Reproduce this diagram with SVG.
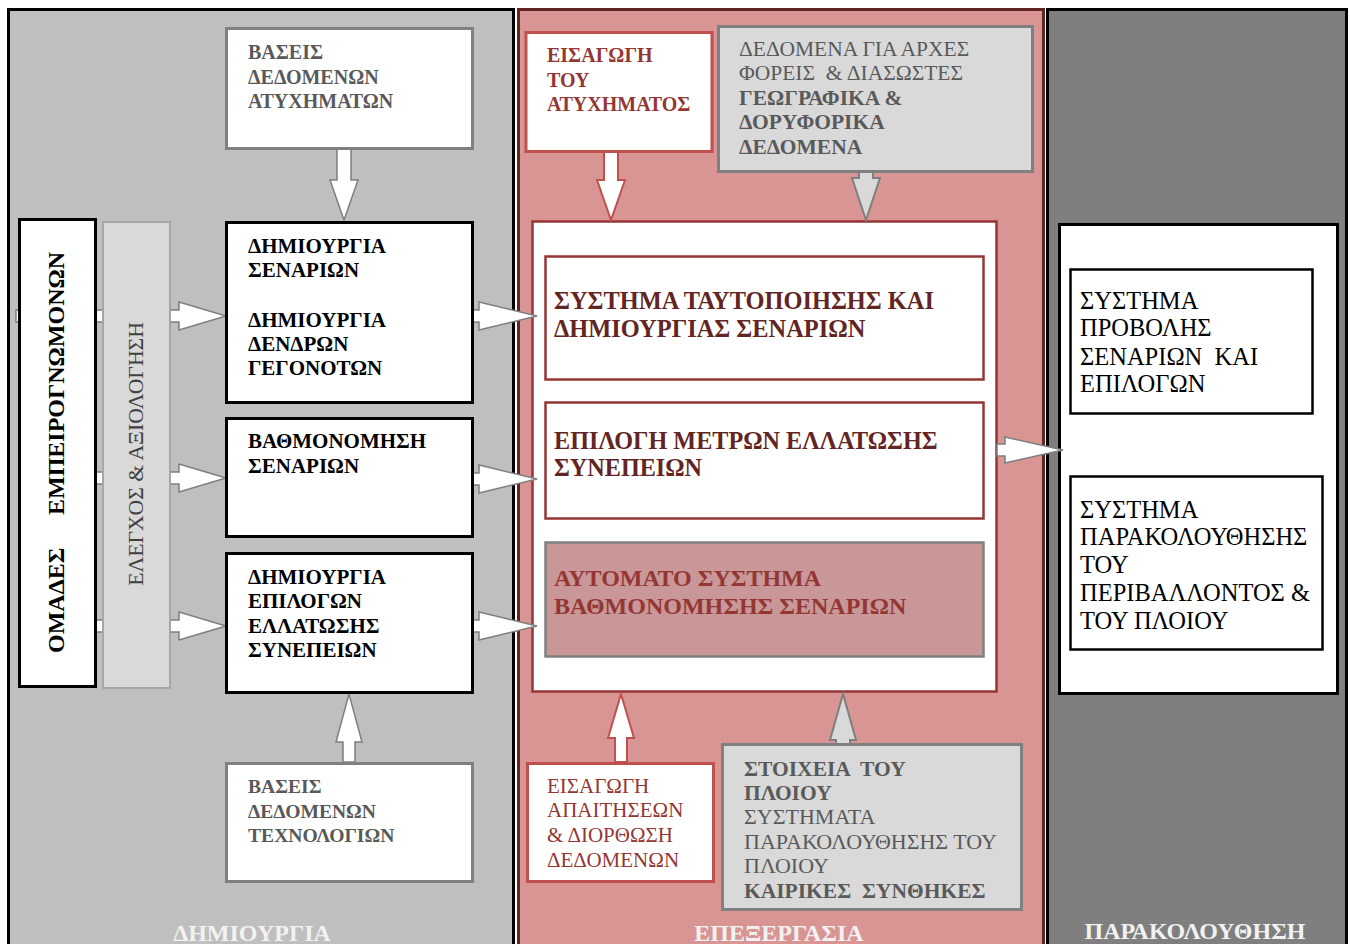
<svg xmlns="http://www.w3.org/2000/svg" width="1350" height="944" viewBox="0 0 1350 944">
  <style>
    text { font-family: "Liberation Serif", "DejaVu Serif", serif; }
    .b { font-weight: bold; }
    .s20 { font-size: 20px; }
    .s21 { font-size: 21px; }
    .s215 { font-size: 21.5px; }
    .s24 { font-size: 24px; }
    .s245 { font-size: 24.5px; }
    .black { fill: #000; }
    .grey { fill: #595959; }
    .red { fill: #943634; }
    .dred { fill: #632523; }
    .wt { fill: #f2f2f2; }
    .box-k { fill: #fff; stroke: #000; stroke-width: 3; }
    .box-g { fill: #fff; stroke: #808080; stroke-width: 3; }
    .box-lg { fill: #d9d9d9; stroke: #808080; stroke-width: 3; }
    .box-r { fill: #fff; stroke: #c0504d; stroke-width: 3; }
    .box-dr { fill: #fff; stroke: #943634; stroke-width: 2.5; }
    .arr-w { fill: #fff; stroke: #7f7f7f; stroke-width: 1.5; }
    .arr-r { fill: #fff; stroke: #c0504d; stroke-width: 2; }
    .arr-g { fill: #d9d9d9; stroke: #7f7f7f; stroke-width: 2; }
  </style>

  <rect x="0" y="0" width="1350" height="944" fill="#fff"/>

  <!-- three swimlanes -->
  <g id="lanes">
    <rect x="8.5" y="9.5" width="505" height="950" fill="#bfbfbf" stroke="#000" stroke-width="3"/>
    <rect x="518.5" y="9.5" width="525" height="950" fill="#d99594" stroke="#632523" stroke-width="3"/>
    <rect x="1047.5" y="9.5" width="299" height="950" fill="#7f7f7f" stroke="#000" stroke-width="3"/>
    <text class="b s24 wt" x="252" y="941" text-anchor="middle">ΔΗΜΙΟΥΡΓΙΑ</text>
    <text class="b s24 wt" x="779" y="941" text-anchor="middle">ΕΠΕΞΕΡΓΑΣΙΑ</text>
    <text class="b s24 wt" x="1195" y="939" text-anchor="middle">ΠΑΡΑΚΟΛΟΥΘΗΣΗ</text>
  </g>

  <!-- container frames -->
  <g id="processing">
    <rect x="532.5" y="221.5" width="464" height="470" fill="#fff" stroke="#943634" stroke-width="2.5"/>
  </g>
  <g id="monitoring">
    <rect x="1059.5" y="224.5" width="278" height="469" class="box-k"/>
  </g>

  <!-- connectors -->
  <g id="connectors">
    <!-- downward -->
    <polygon class="arr-w" points="337,149 351,149 351,180 358,180 344,220 330,180 337,180"/>
    <polygon class="arr-r" points="604,152 618,152 618,180 625,180 611,220 597,180 604,180"/>
    <polygon class="arr-g" points="859,172 873,172 873,178 880,178 866,220 852,178 859,178"/>
    <!-- upward -->
    <polygon class="arr-w" points="343,762 355,762 355,742 362,742 349,694 336,742 343,742"/>
    <polygon class="arr-r" points="615,762 627,762 627,738 634,738 621,694 608,738 615,738"/>
    <polygon class="arr-g" points="836,745 850,745 850,740 856,740 843,694 830,740 836,740"/>
    <!-- expert groups to creation steps -->
    <polygon class="arr-w" points="16,310 179,310 179,302 226,316 179,330 179,322 16,322"/>
    <polygon class="arr-w" points="19,472 179,472 179,464 226,478 179,492 179,484 19,484"/>
    <polygon class="arr-w" points="19,620 179,620 179,612 226,626 179,640 179,632 19,632"/>
    <!-- creation steps to processing -->
    <polygon class="arr-w" points="473,310 479,310 479,302 537,316 479,330 479,322 473,322"/>
    <polygon class="arr-w" points="473,473 479,473 479,465 537,479 479,493 479,485 473,485"/>
    <polygon class="arr-w" points="473,620 479,620 479,612 537,626 479,640 479,632 473,632"/>
    <!-- processing to monitoring -->
    <polygon class="arr-w" points="997,444 1005,444 1005,437 1063,450 1005,463 1005,456 997,456"/>
  </g>

  <!-- creation lane -->
  <g id="experts">
    <rect x="19.5" y="219.5" width="76" height="467" class="box-k"/>
    <text class="b s24 black" transform="translate(64,653) rotate(-90)">ΟΜΑΔΕΣ</text>
    <text class="b s24 black" transform="translate(64,515) rotate(-90)">ΕΜΠΕΙΡΟΓΝΩΜΟΝΩΝ</text>
  </g>
  <g id="review">
    <rect x="103" y="222" width="67" height="466" fill="#d9d9d9" stroke="#a6a6a6" stroke-width="2"/>
    <text fill="#404040" style="font-size:21.7px" transform="translate(143,454) rotate(-90)" text-anchor="middle">ΕΛΕΓΧΟΣ &amp; ΑΞΙΟΛΟΓΗΣΗ</text>
  </g>
  <g id="accident-db">
    <rect x="226.5" y="28.5" width="246" height="120" class="box-g"/>
    <text class="b s20 grey" x="248" y="59">ΒΑΣΕΙΣ</text>
    <text class="b s20 grey" x="248" y="84">ΔΕΔΟΜΕΝΩΝ</text>
    <text class="b s20 grey" x="248" y="108">ΑΤΥΧΗΜΑΤΩΝ</text>
  </g>
  <g id="scenario-creation">
    <rect x="226.5" y="222.5" width="246" height="180" class="box-k"/>
    <text class="b s21 black" x="248" y="253">ΔΗΜΙΟΥΡΓΙΑ</text>
    <text class="b s21 black" x="248" y="277">ΣΕΝΑΡΙΩΝ</text>
    <text class="b s21 black" x="248" y="327">ΔΗΜΙΟΥΡΓΙΑ</text>
    <text class="b s21 black" x="248" y="351">ΔΕΝΔΡΩΝ</text>
    <text class="b s21 black" x="248" y="375">ΓΕΓΟΝΟΤΩΝ</text>
  </g>
  <g id="scenario-ranking">
    <rect x="226.5" y="418.5" width="246" height="118" class="box-k"/>
    <text class="b s21 black" x="248" y="448">ΒΑΘΜΟΝΟΜΗΣΗ</text>
    <text class="b s21 black" x="248" y="473">ΣΕΝΑΡΙΩΝ</text>
  </g>
  <g id="mitigation-options">
    <rect x="226.5" y="553.5" width="246" height="139" class="box-k"/>
    <text class="b s21 black" x="248" y="584">ΔΗΜΙΟΥΡΓΙΑ</text>
    <text class="b s21 black" x="248" y="608">ΕΠΙΛΟΓΩΝ</text>
    <text class="b s21 black" x="248" y="633">ΕΛΛΑΤΩΣΗΣ</text>
    <text class="b s21 black" x="248" y="657">ΣΥΝΕΠΕΙΩΝ</text>
  </g>
  <g id="technology-db">
    <rect x="226.5" y="763.5" width="246" height="118" class="box-g"/>
    <text class="b grey" style="font-size:19.6px" x="248" y="793">ΒΑΣΕΙΣ</text>
    <text class="b grey" style="font-size:19.6px" x="248" y="818">ΔΕΔΟΜΕΝΩΝ</text>
    <text class="b grey" style="font-size:19.6px" x="248" y="842">ΤΕΧΝΟΛΟΓΙΩΝ</text>
  </g>

  <!-- processing lane -->
  <g id="accident-input">
    <rect x="526" y="32.5" width="186" height="119" class="box-r"/>
    <text class="b s20 red" x="547" y="62">ΕΙΣΑΓΩΓΗ</text>
    <text class="b s20 red" x="547" y="87">ΤΟΥ</text>
    <text class="b s20 red" x="547" y="111">ΑΤΥΧΗΜΑΤΟΣ</text>
  </g>
  <g id="authority-data">
    <rect x="718.5" y="26.5" width="314" height="145" class="box-lg"/>
    <text class="s215 grey" x="739" y="56">ΔΕΔΟΜΕΝΑ ΓΙΑ ΑΡΧΕΣ</text>
    <text class="s215 grey" x="739" y="80" xml:space="preserve">ΦΟΡΕΙΣ  &amp; ΔΙΑΣΩΣΤΕΣ</text>
    <text class="b s215 grey" x="739" y="105">ΓΕΩΓΡΑΦΙΚΑ &amp;</text>
    <text class="b s215 grey" x="739" y="129">ΔΟΡΥΦΟΡΙΚΑ</text>
    <text class="b s215 grey" x="739" y="154">ΔΕΔΟΜΕΝΑ</text>
  </g>
  <g id="identification-system">
    <rect x="545.5" y="256.5" width="438" height="123" class="box-dr"/>
    <text class="b dred" style="font-size:24.4px" x="554" y="309">ΣΥΣΤΗΜΑ ΤΑΥΤΟΠΟΙΗΣΗΣ ΚΑΙ</text>
    <text class="b dred" style="font-size:24.4px" x="554" y="337">ΔΗΜΙΟΥΡΓΙΑΣ ΣΕΝΑΡΙΩΝ</text>
  </g>
  <g id="measure-selection">
    <rect x="545.5" y="402.5" width="438" height="116" class="box-dr"/>
    <text class="b dred" style="font-size:24.2px" x="554" y="449">ΕΠΙΛΟΓΗ ΜΕΤΡΩΝ ΕΛΛΑΤΩΣΗΣ</text>
    <text class="b dred" style="font-size:24.2px" x="554" y="476">ΣΥΝΕΠΕΙΩΝ</text>
  </g>
  <g id="auto-ranking">
    <rect x="545.5" y="542.5" width="438" height="114" fill="#c99797" stroke="#808080" stroke-width="2.5"/>
    <text class="b s24 red" x="554" y="586">ΑΥΤΟΜΑΤΟ ΣΥΣΤΗΜΑ</text>
    <text class="b s24 red" x="554" y="614">ΒΑΘΜΟΝΟΜΗΣΗΣ ΣΕΝΑΡΙΩΝ</text>
  </g>
  <g id="requirements-input">
    <rect x="527.5" y="763.5" width="186" height="118" class="box-r"/>
    <text class="s21 red" x="547" y="793">ΕΙΣΑΓΩΓΗ</text>
    <text class="s21 red" x="547" y="817">ΑΠΑΙΤΗΣΕΩΝ</text>
    <text class="s21 red" x="547" y="842">&amp; ΔΙΟΡΘΩΣΗ</text>
    <text class="s21 red" x="547" y="867">ΔΕΔΟΜΕΝΩΝ</text>
  </g>
  <g id="ship-data">
    <rect x="722.5" y="744.5" width="299" height="165" class="box-lg"/>
    <text class="b s215 grey" x="744" y="776" xml:space="preserve">ΣΤΟΙΧΕΙΑ  ΤΟΥ</text>
    <text class="b s215 grey" x="744" y="800">ΠΛΟΙΟΥ</text>
    <text class="grey" style="font-size:22px" x="744" y="824">ΣΥΣΤΗΜΑΤΑ</text>
    <text class="grey" style="font-size:22px" x="744" y="849">ΠΑΡΑΚΟΛΟΥΘΗΣΗΣ ΤΟΥ</text>
    <text class="grey" style="font-size:22px" x="744" y="873">ΠΛΟΙΟΥ</text>
    <text class="b s215 grey" x="744" y="898" xml:space="preserve">ΚΑΙΡΙΚΕΣ  ΣΥΝΘΗΚΕΣ</text>
  </g>

  <!-- monitoring lane -->
  <g id="display-system">
    <rect x="1070.5" y="269.5" width="242" height="144" fill="#fff" stroke="#000" stroke-width="2.5"/>
    <text class="s245 black" x="1080" y="309">ΣΥΣΤΗΜΑ</text>
    <text class="s245 black" x="1080" y="336">ΠΡΟΒΟΛΗΣ</text>
    <text class="s245 black" x="1080" y="365" xml:space="preserve">ΣΕΝΑΡΙΩΝ  ΚΑΙ</text>
    <text class="s245 black" x="1080" y="392">ΕΠΙΛΟΓΩΝ</text>
  </g>
  <g id="environment-monitoring">
    <rect x="1070.5" y="476.5" width="252" height="173" fill="#fff" stroke="#000" stroke-width="2.5"/>
    <text class="s245 black" x="1080" y="518">ΣΥΣΤΗΜΑ</text>
    <text class="s245 black" x="1080" y="545">ΠΑΡΑΚΟΛΟΥΘΗΣΗΣ</text>
    <text class="s245 black" x="1080" y="573">ΤΟΥ</text>
    <text class="s245 black" x="1080" y="601">ΠΕΡΙΒΑΛΛΟΝΤΟΣ &amp;</text>
    <text class="s245 black" x="1080" y="629">ΤΟΥ ΠΛΟΙΟΥ</text>
  </g>
</svg>
